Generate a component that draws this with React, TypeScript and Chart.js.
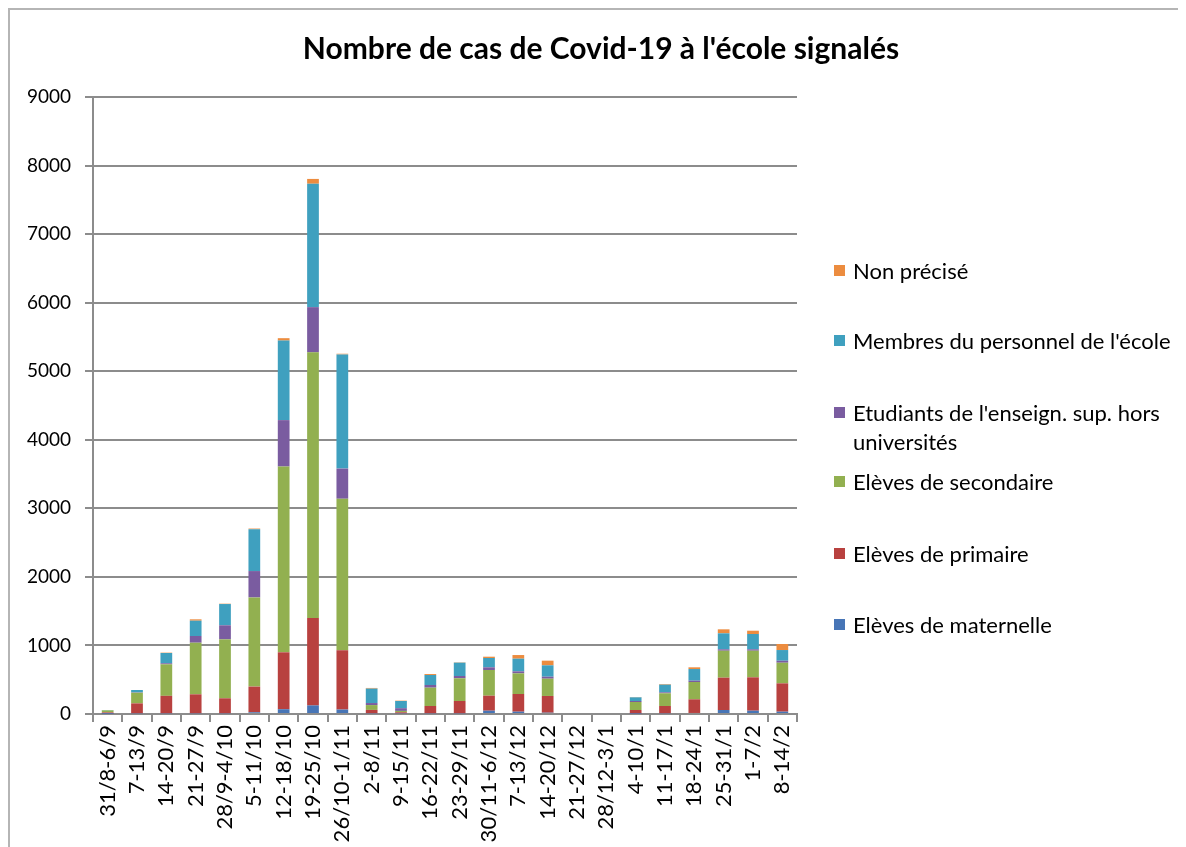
import React, { useEffect, useRef } from "react";
import { Chart, registerables } from "chart.js";

Chart.register(...registerables);

const categories = [
  "31/8-6/9", "7-13/9", "14-20/9", "21-27/9", "28/9-4/10", "5-11/10", "12-18/10", "19-25/10",
  "26/10-1/11", "2-8/11", "9-15/11", "16-22/11", "23-29/11", "30/11-6/12", "7-13/12", "14-20/12",
  "21-27/12", "28/12-3/1", "4-10/1", "11-17/1", "18-24/1", "25-31/1", "1-7/2", "8-14/2",
];

const maternelle = [3, 10, 10, 10, 10, 25, 70, 125, 65, 10, 10, 10, 10, 48, 34, 19, 0, 0, 5, 10, 15, 58, 48, 34];
const primaire = [20, 145, 255, 277, 219, 375, 830, 1275, 865, 50, 15, 107, 180, 219, 258, 244, 0, 0, 53, 107, 199, 472, 487, 413];
const secondaire = [30, 155, 460, 753, 860, 1300, 2710, 3875, 2210, 70, 20, 267, 331, 375, 301, 252, 0, 0, 117, 185, 253, 393, 388, 301];
const etudiants = [0, 5, 15, 98, 205, 385, 677, 660, 440, 30, 40, 39, 33, 39, 29, 29, 0, 0, 15, 14, 19, 21, 21, 29];
const personnel = [5, 35, 150, 223, 310, 610, 1160, 1800, 1665, 210, 105, 146, 195, 136, 185, 166, 0, 0, 53, 112, 170, 233, 223, 156];
const nonPrecise = [0, 0, 5, 20, 5, 10, 35, 70, 10, 10, 5, 14, 5, 19, 53, 68, 0, 0, 5, 9, 25, 58, 48, 88];

const seriesNames = [
  "Elèves de maternelle",
  "Elèves de primaire",
  "Elèves de secondaire",
  "Etudiants de l'enseign. sup. hors universités",
  "Membres du personnel de l'école",
  "Non précisé",
];
const seriesColors = ["#4775B6", "#B8413F", "#92B050", "#7A5CA0", "#3FA0BF", "#EC8C3F"];

const yMax = 9000;
const yStep = 1000;

const FONT = "Lato, 'Open Sans', sans-serif";

export default function App() {
  const canvasRef = useRef<HTMLCanvasElement | null>(null);

  useEffect(() => {
    const canvas = canvasRef.current;
    if (!canvas) return;
    const values = [maternelle, primaire, secondaire, etudiants, personnel, nonPrecise];
    const chart = new Chart(canvas, {
      type: "bar",
      data: {
        labels: categories,
        datasets: values.map((d, i) => ({
          label: seriesNames[i],
          data: d,
          backgroundColor: seriesColors[i],
          borderWidth: 0,
          categoryPercentage: 1,
          barPercentage: 0.4,
          stack: "s",
        })),
      },
      options: {
        responsive: false,
        animation: false,
        maintainAspectRatio: false,
        layout: { padding: { left: 0, right: 389, top: 89, bottom: 0 } },
        plugins: {
          legend: { display: false },
          title: { display: false },
          tooltip: { enabled: false },
        },
        scales: {
          x: {
            stacked: true,
            offset: true,
            afterFit: (s: any) => { s.height = 133; },
            border: { display: true, color: "#8c8c8c", width: 2 },
            grid: {
              offset: true,
              drawOnChartArea: false,
              drawTicks: true,
              tickLength: 8,
              color: "#8c8c8c",
              lineWidth: 2,
            },
            ticks: {
              autoSkip: false,
              maxRotation: 90,
              minRotation: 90,
              color: "#000",
              padding: 3,
              font: { family: FONT, size: 22 },
            },
          },
          y: {
            stacked: true,
            min: 0,
            max: yMax,
            afterFit: (s: any) => { s.width = 85; },
            border: { display: true, color: "#8c8c8c", width: 2 },
            grid: {
              color: "#8c8c8c",
              lineWidth: 2,
              drawTicks: true,
              tickLength: 8,
            },
            ticks: {
              stepSize: yStep,
              color: "#000",
              padding: 14,
              font: { family: FONT, size: 19 },
              callback: (v: any) => String(v),
            },
          },
        },
      },
    });
    return () => chart.destroy();
  }, []);

  const legendItems = [
    { i: 5, top: 248 },
    { i: 4, top: 318 },
    { i: 3, top: 390 },
    { i: 2, top: 459 },
    { i: 1, top: 531 },
    { i: 0, top: 602 },
  ];

  return (
    <div style={{ position: "relative", width: 1178, height: 839, fontFamily: FONT }}>
      <div
        style={{
          position: "absolute",
          left: 0,
          top: 0,
          width: 1178,
          height: 839,
          borderLeft: "2px solid #b5b5b5",
          borderTop: "2px solid #b5b5b5",
          boxSizing: "border-box",
          pointerEvents: "none",
        }}
      />
      <canvas ref={canvasRef} width={1178} height={839} style={{ position: "absolute", left: 0, top: 0 }} />
      <div
        style={{
          position: "absolute",
          left: 0,
          width: 1186,
          top: 21,
          textAlign: "center",
          fontWeight: 700,
          fontSize: 30,
          color: "#000",
        }}
      >
        Nombre de cas de Covid-19 à l'école signalés
      </div>
      {legendItems.map(({ i, top }) => (
        <div
          key={i}
          style={{
            position: "absolute",
            left: 826,
            top,
            width: 345,
            display: "flex",
            alignItems: "flex-start",
            fontSize: 22,
            lineHeight: "29px",
            color: "#000",
          }}
        >
          <span
            style={{
              display: "inline-block",
              width: 11,
              height: 11,
              marginTop: 9,
              marginRight: 8,
              background: seriesColors[i],
              flex: "0 0 auto",
            }}
          />
          <span>{seriesNames[i]}</span>
        </div>
      ))}
    </div>
  );
}
